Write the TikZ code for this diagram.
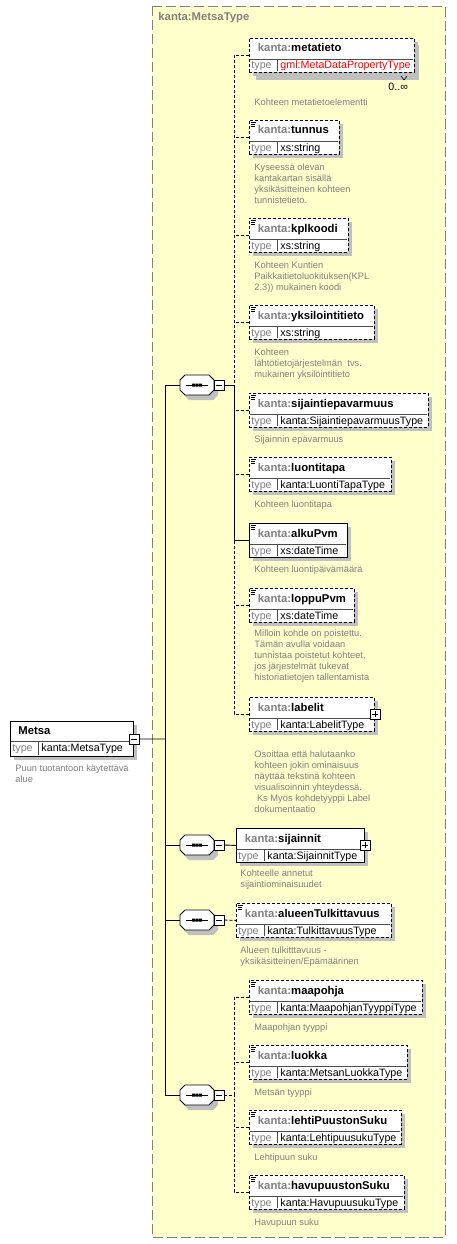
\documentclass[tikz,border=0pt]{standalone}
\usepackage{fontspec}
\setmainfont{Liberation Sans}
\definecolor{xsdyellow}{RGB}{255,255,204}
\definecolor{xsdgray}{RGB}{128,128,128}
\definecolor{xsdshadow}{RGB}{192,192,192}
\tikzset{
  elbox/.style={draw=black,fill=white,inner sep=0pt,anchor=north west},
  opt/.style={dash pattern=on 3pt off 2pt},
  shadowfill/.style={fill=xsdshadow},
  divline/.style={black!70,line width=0.7pt,solid},
  nametext/.style={anchor=west,inner sep=0pt,text height=8pt,text depth=2pt,font=\fontsize{11.3}{13}\selectfont\bfseries},
  typetext/.style={anchor=west,inner sep=0pt,text height=8pt,text depth=2pt,font=\fontsize{10.7}{13}\selectfont},
  desc/.style={anchor=north west,inner sep=0pt,align=left,text=xsdgray,font=\fontsize{9.3}{11}\selectfont,execute at begin node=\rule{0pt}{8pt}},
  pmbox/.style={draw,fill=white,solid,minimum size=10pt,inner sep=0pt,line width=0.8pt}
}
% element box: node name, left, top, width, local name, type, line style
\newcommand{\xelem}[7]{%
  \fill[shadowfill] (#2+4,#3+4) rectangle (#2+#4+4,#3+38);
  \node[elbox,#7,minimum width=#4pt,minimum height=34pt] (#1) at (#2,#3) {};
  \draw[divline] (#2+1,#3+21) -- (#2+#4-1,#3+21) (#2+28,#3+21) -- (#2+28,#3+33);
  \node[nametext] (#1n) at (#2+8.5,#3+11) {\textcolor{xsdgray}{kanta:}#5};
  \node[typetext,text=xsdgray] (#1t) at (#2+2,#3+28) {type};
  \node[typetext] (#1v) at (#2+31,#3+28) {#6};
}
% sequence compositor: node name, centre x, centre y
\newcommand{\xseq}[3]{%
  \begin{scope}[shift={(#2,#3)}]
    \fill[shadowfill] (-8,-5) -- (16,-5) -- (21,0) -- (21,10) -- (16,15) -- (-8,15) -- (-13,10) -- (-13,0) -- cycle;
    \node[minimum width=34pt,minimum height=20pt,inner sep=0pt] (#1) at (0,0) {};
    \draw[fill=white] (-12,-10) -- (12,-10) -- (17,-5) -- (17,5) -- (12,10) -- (-12,10) -- (-17,5) -- (-17,-5) -- cycle;
    \draw[line width=1pt] (-11,0) -- (11,0);
    \fill (-5,-1.5) rectangle (-2,1.5) (-1.5,-1.5) rectangle (1.5,1.5) (2,-1.5) rectangle (5,1.5);
    \node[pmbox] (#1m) at (22,0) {};
    \draw[line width=0.8pt] ([xshift=-3pt]#1m.center) -- ([xshift=3pt]#1m.center);
  \end{scope}
}
\begin{document}
\begin{tikzpicture}[x=1pt,y=-1pt,line width=0.9pt]
\useasboundingbox (0,0) rectangle (456,1244);

% complex type frame
\draw[xsdgray,fill=xsdyellow,dash pattern=on 10pt off 4pt] (152,6) rectangle (445,1237);
\node[nametext,text=xsdgray] (frame) at (158,18) {kanta:MetsaType};

% root element
\fill[shadowfill] (14,725) rectangle (137,760);
\node[elbox,minimum width=123pt,minimum height=35pt] (metsa) at (10,721) {};
\draw[divline] (11,741) -- (132,741) (38,741) -- (38,755);
\node[nametext] (metsan) at (18,731) {Metsa};
\node[typetext,text=xsdgray] (metsat) at (12,748.5) {type};
\node[typetext] (metsav) at (41,748.5) {kanta:MetsaType};
\node[pmbox] (metsam) at (metsa.east) {};
\draw[line width=0.8pt] ([xshift=-3pt]metsam.center) -- ([xshift=3pt]metsam.center);
\node[desc] (metsadoc) at (15,764.5) {Puun tuotantoon käytettävä\\alue};

% sequences
\coordinate (trunk) at (165,739);
\xseq{seqa}{197}{385}
\xseq{seqb}{197}{845}
\xseq{seqc}{197}{920}
\xseq{seqd}{197}{1095}
\draw (metsam.east) -- (trunk);
\draw (seqa.west) -| (trunk);
\draw (seqd.west) -| (trunk);
\draw (seqb.west) -- (seqb.west -| trunk);
\draw (seqc.west) -- (seqc.west -| trunk);

% first sequence
\fill[shadowfill] (256,45) rectangle (419,80);
\xelem{metatieto}{249}{38}{165}{metatieto}{\textcolor{red}{gml:MetaDataPropertyType}}{opt}
\draw[line width=0.6pt] (401,76) -- (404,80) -- (407,76);
\node[typetext] (metaocc) at (388,88) {0..∞};
\xelem{tunnus}{249}{120}{90}{tunnus}{xs:string}{opt}
\xelem{kplkoodi}{249}{218}{99}{kplkoodi}{xs:string}{opt}
\xelem{yksilointitieto}{249}{305}{125}{yksilointitieto}{xs:string}{opt}
\xelem{sijaintiepavarmuus}{249}{393}{179}{sijaintiepavarmuus}{kanta:SijaintiepavarmuusType}{opt}
\xelem{luontitapa}{249}{457}{142}{luontitapa}{kanta:LuontiTapaType}{opt}
\xelem{alkuPvm}{249}{523}{98}{alkuPvm}{xs:dateTime}{solid}
\xelem{loppuPvm}{249}{588}{105}{loppuPvm}{xs:dateTime}{opt}
\xelem{labelit}{249}{697}{125}{labelit}{kanta:LabelitType}{opt}
\node[desc] (metatietodoc) at (254,97.5) {Kohteen metatietoelementti};
\node[desc] (tunnusdoc) at (254,163.5) {Kyseessä olevan\\kantakartan sisällä\\yksikäsitteinen kohteen\\tunnistetieto.};
\node[desc] (kplkoodidoc) at (254,261.5) {Kohteen Kuntien\\Paikkaitietoluokituksen(KPL\\2.3)) mukainen koodi};
\node[desc] (yksilointitietodoc) at (254,348.5) {Kohteen\\lähtötietojärjestelmän\ \ tvs.\\mukainen yksilöintitieto};
\node[desc] (sijaintiepavarmuusdoc) at (254,434.5) {Sijainnin epävarmuus};
\node[desc] (luontitapadoc) at (254,499.5) {Kohteen luontitapa};
\node[desc] (alkuPvmdoc) at (254,564.5) {Kohteen luontipäivämäärä};
\node[desc] (loppuPvmdoc) at (254,629.5) {Milloin kohde on poistettu.\\Tämän avulla voidaan\\tunnistaa poistetut kohteet,\\jos järjestelmät tukevat\\historiatietojen tallentamista};
\node[desc] (labelitdoc) at (254,750.5) {Osoittaa että halutaanko\\kohteen jokin ominaisuus\\näyttää tekstinä kohteen\\visualisoinnin yhteydessä.\\\ Ks Myös kohdetyyppi Label\\dokumentaatio};
\coordinate (forka) at (234,385);
\draw (seqam.east) -- (forka);
\draw[opt] (metatieto.west) -| (forka);
\draw[opt] (labelit.west) -| (forka);
\foreach \n in {tunnus,kplkoodi,yksilointitieto,sijaintiepavarmuus,luontitapa,loppuPvm}
  \draw[opt] (\n.west) -- (\n.west -| forka);
\draw (alkuPvm.west) -| (forka);

% second and third sequence
\xelem{sijainnit}{236}{828}{128}{sijainnit}{kanta:SijainnitType}{solid}
\xelem{alueenTulkittavuus}{236}{903}{155}{alueenTulkittavuus}{kanta:TulkittavuusType}{opt}
\node[desc] (sijainnitdoc) at (240,869.5) {Kohteelle annetut\\sijaintiominaisuudet};
\node[desc] (alueenTulkittavuusdoc) at (240,946.5) {Alueen tulkitttavuus -\\yksikäsitteinen/Epämäärinen};
\draw (seqbm.east) -- (sijainnit.west);
\draw[opt] (seqcm.east) -- (alueenTulkittavuus.west);

% fourth sequence
\xelem{maapohja}{249}{980}{173}{maapohja}{kanta:MaapohjanTyyppiType}{opt}
\xelem{luokka}{249}{1045}{158}{luokka}{kanta:MetsanLuokkaType}{opt}
\xelem{lehtiPuustonSuku}{249}{1110}{152}{lehtiPuustonSuku}{kanta:LehtipuusukuType}{opt}
\xelem{havupuustonSuku}{249}{1175}{155}{havupuustonSuku}{kanta:HavupuusukuType}{opt}
\node[desc] (maapohjadoc) at (254,1022.5) {Maapohjan tyyppi};
\node[desc] (luokkadoc) at (254,1087.5) {Metsän tyyppi};
\node[desc] (lehtiPuustonSukudoc) at (254,1152.5) {Lehtipuun suku};
\node[desc] (havupuustonSukudoc) at (254,1217.5) {Havupuun suku};
\coordinate (forkd) at (234,1095);
\draw[opt] (seqdm.east) -- (forkd);
\draw[opt] (maapohja.west) -| (forkd);
\draw[opt] (havupuustonSuku.west) -| (forkd);
\draw[opt] (luokka.west) -- (luokka.west -| forkd);
\draw[opt] (lehtiPuustonSuku.west) -- (lehtiPuustonSuku.west -| forkd);

% expand boxes
\foreach \n in {labelit,sijainnit} {
  \node[pmbox] (\n p) at (\n.east) {};
  \draw[line width=0.8pt] ([xshift=-3pt]\n p.center) -- ([xshift=3pt]\n p.center) ([yshift=-3pt]\n p.center) -- ([yshift=3pt]\n p.center);
}
% simple content icons
\foreach \n in {tunnus,kplkoodi,yksilointitieto,sijaintiepavarmuus,luontitapa,alkuPvm,loppuPvm,alueenTulkittavuus,maapohja,luokka,lehtiPuustonSuku,havupuustonSuku}
  \draw[line width=0.7pt,solid] ([shift={(2pt,-2.5pt)}]\n.north west) -- ++(5,0) ([shift={(2pt,-4.5pt)}]\n.north west) -- ++(4,0) ([shift={(2pt,-6.5pt)}]\n.north west) -- ++(4,0);
\end{tikzpicture}
\end{document}
